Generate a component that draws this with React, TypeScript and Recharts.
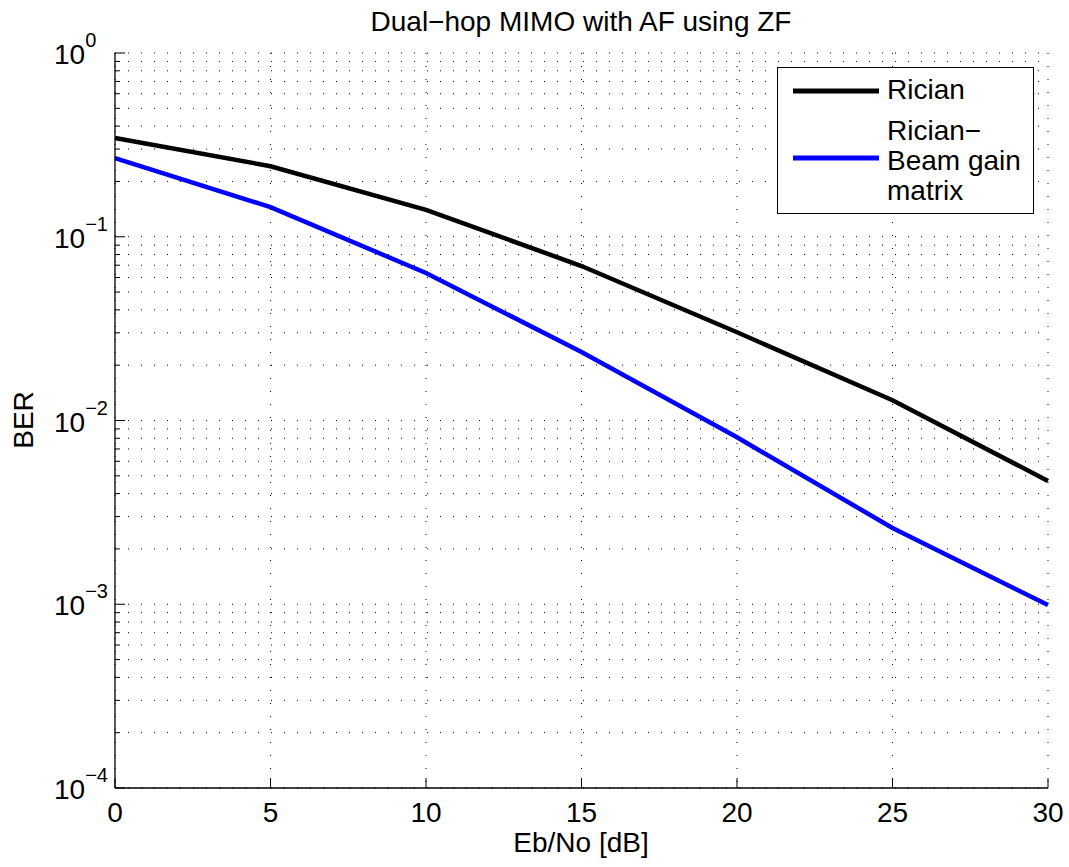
import { LineChart, Line, XAxis, YAxis, CartesianGrid } from 'recharts';

const ebNo = [0, 5, 10, 15, 20, 25, 30];
const ricianBer = [0.345, 0.242, 0.14, 0.0693, 0.0302, 0.0129, 0.00469];
const beamGainBer = [0.268, 0.145, 0.0635, 0.0236, 0.0081, 0.0026, 0.00099];

const xTicks = [0, 5, 10, 15, 20, 25, 30];
const yDecades = [1e-4, 1e-3, 1e-2, 1e-1, 1];
const yExponents = ['−4', '−3', '−2', '−1', '0'];
const minorSteps = [2, 3, 4, 5, 6, 7, 8, 9];

const series = [
  { key: 'rician', name: ['Rician'], color: '#000000' },
  { key: 'beam', name: ['Rician−', 'Beam gain', 'matrix'], color: '#0000ff' },
];

const data = ebNo.map((x, i) => ({ x, rician: ricianBer[i], beam: beamGainBer[i] }));

const yTicks = [
  ...yDecades,
  ...yDecades.slice(0, -1).flatMap((d) => minorSteps.map((m) => d * m)),
].sort((a, b) => a - b);

const FONT = "'Liberation Sans', Arial, Helvetica, sans-serif";
const FS = 28;

function LeftTick({ x, y, payload }: any) {
  const idx = yDecades.indexOf(payload.value);
  const major = idx >= 0;
  return (
    <g>
      <line x1={x} x2={x + (major ? 10 : 5)} y1={y} y2={y} stroke="#000" strokeWidth={1} />
      {major && (
        <text x={x - 61} y={y + 11} fontSize={FS} fontFamily={FONT} fill="#000">
          10
          <tspan dy={-17} fontSize={20}>
            {yExponents[idx]}
          </tspan>
        </text>
      )}
    </g>
  );
}

function RightTick({ x, y, payload }: any) {
  const major = yDecades.indexOf(payload.value) >= 0;
  return <line x1={x} x2={x - (major ? 10 : 5)} y1={y} y2={y} stroke="#000" strokeWidth={1} />;
}

function BottomTick({ x, y, payload }: any) {
  return (
    <g>
      <line x1={x} x2={x} y1={y} y2={y - 10} stroke="#000" strokeWidth={1} />
      <text x={x} y={y + 34} textAnchor="middle" fontSize={FS} fontFamily={FONT} fill="#000">
        {payload.value}
      </text>
    </g>
  );
}

function TopTick({ x, y }: any) {
  return <line x1={x} x2={x} y1={y} y2={y + 10} stroke="#000" strokeWidth={1} />;
}

export default function App() {
  const axisLine = { stroke: '#000', strokeWidth: 1.3 };
  return (
    <div style={{ position: 'absolute', left: 0, top: 0, width: 1069, height: 867, background: '#fff', fontFamily: FONT }}>
      <LineChart width={1069} height={867} data={data} margin={{ top: 53, right: 21, bottom: 0, left: 0 }}>
        <CartesianGrid stroke="#000" strokeDasharray="1 12" strokeWidth={1} />
        <XAxis
          dataKey="x"
          type="number"
          domain={[0, 30]}
          ticks={xTicks}
          height={79}
          tickSize={0}
          tickMargin={0}
          axisLine={axisLine}
          tickLine={false}
          tick={<BottomTick />}
          interval={0}
        />
        <XAxis
          xAxisId="top"
          orientation="top"
          dataKey="x"
          type="number"
          domain={[0, 30]}
          ticks={xTicks}
          height={0}
          tickSize={0}
          tickMargin={0}
          axisLine={axisLine}
          tickLine={false}
          tick={<TopTick />}
          interval={0}
        />
        <YAxis
          type="number"
          scale="log"
          domain={[1e-4, 1]}
          allowDataOverflow
          ticks={yTicks}
          width={115}
          tickSize={0}
          tickMargin={0}
          axisLine={axisLine}
          tickLine={false}
          tick={<LeftTick />}
          interval={0}
        />
        <YAxis
          yAxisId="right"
          orientation="right"
          type="number"
          scale="log"
          domain={[1e-4, 1]}
          allowDataOverflow
          ticks={yTicks}
          width={0}
          tickSize={0}
          tickMargin={0}
          axisLine={axisLine}
          tickLine={false}
          tick={<RightTick />}
          interval={0}
        />
        {series.map((s) => (
          <Line
            key={s.key}
            dataKey={s.key}
            type="linear"
            stroke={s.color}
            strokeWidth={4.5}
            dot={false}
            isAnimationActive={false}
          />
        ))}
      </LineChart>

      {/* title, axis labels and legend */}
      <svg style={{ position: 'absolute', left: 0, top: 0, pointerEvents: 'none' }} width={1069} height={867}>
        <g fontFamily={FONT} fontSize={FS} fill="#000">
          <text x={581} y={31} textAnchor="middle">
            Dual−hop MIMO with AF using ZF
          </text>
          <text x={581} y={852} textAnchor="middle">
            Eb/No [dB]
          </text>
          <text x={33} y={420} textAnchor="middle" transform="rotate(-90 33 420)">
            BER
          </text>
        </g>

        <rect x={777.5} y={67.5} width={256} height={146} fill="#fff" stroke="#000" strokeWidth={1} />
        <line x1={793} x2={879} y1={91} y2={91} stroke={series[0].color} strokeWidth={5} />
        <text x={887} y={99} fontSize={FS} fontFamily={FONT} fill="#000">
          {series[0].name[0]}
        </text>
        <line x1={793} x2={879} y1={158} y2={158} stroke={series[1].color} strokeWidth={5} />
        {series[1].name.map((t, i) => (
          <text key={t} x={887} y={140 + i * 30} fontSize={FS} fontFamily={FONT} fill="#000">
            {t}
          </text>
        ))}
      </svg>
    </div>
  );
}
